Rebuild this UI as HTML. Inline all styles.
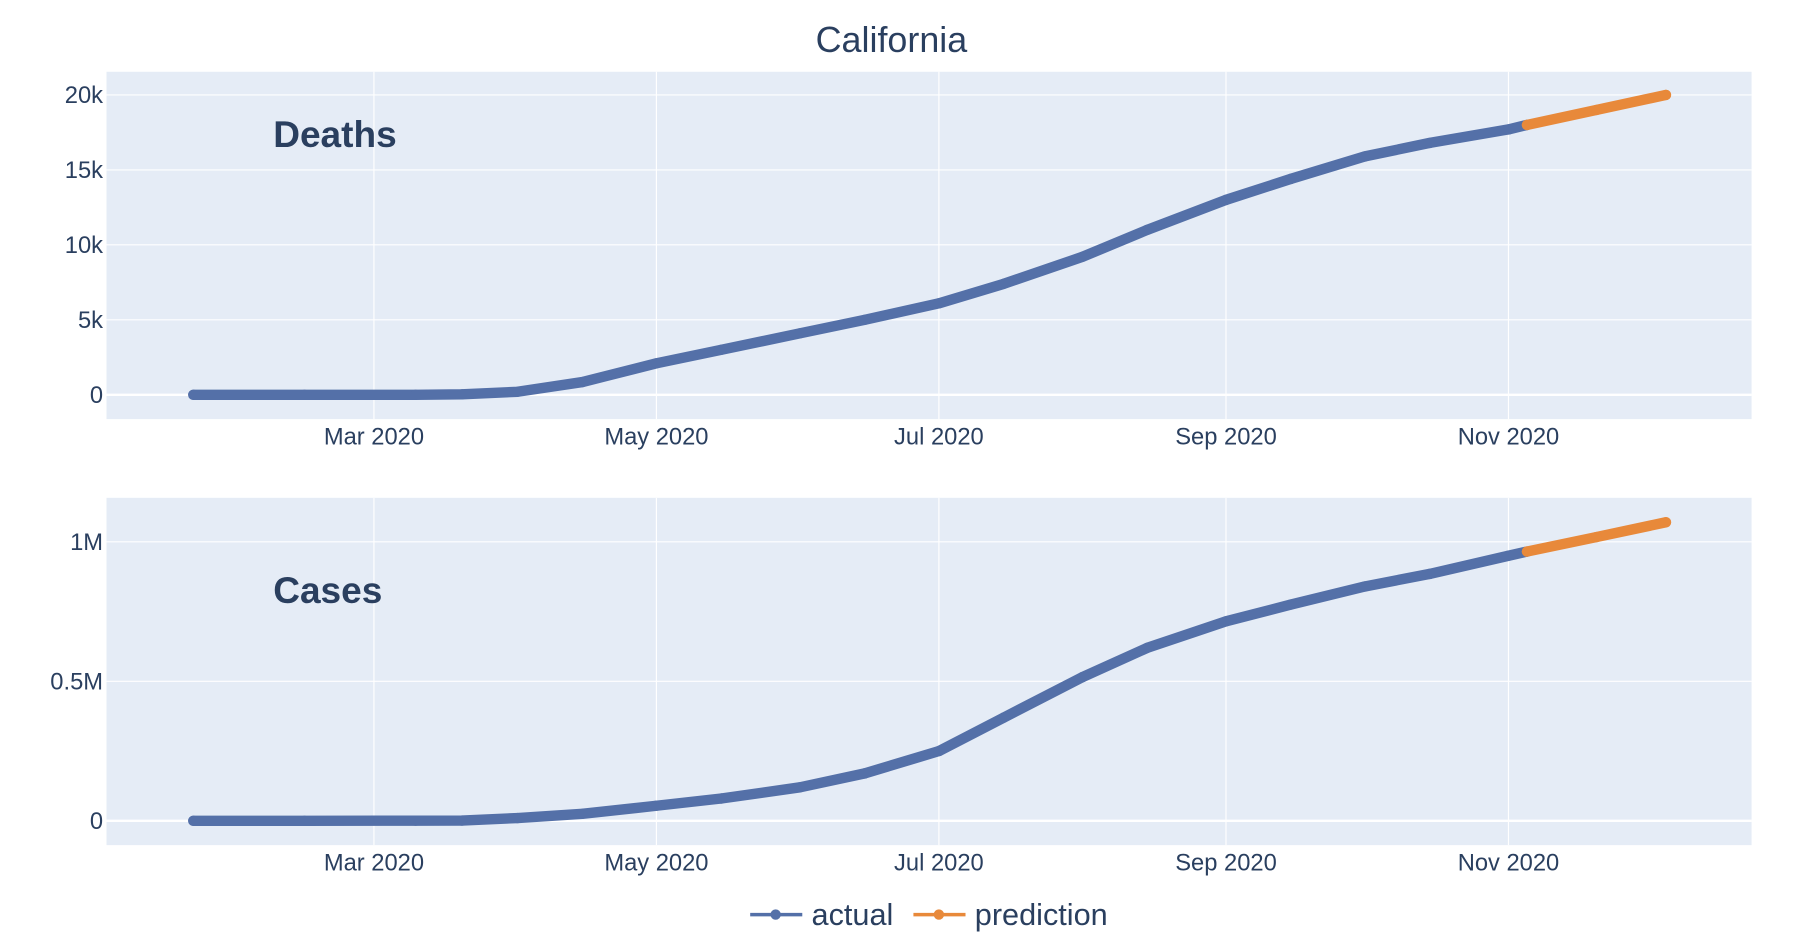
<!DOCTYPE html>
<html><head><meta charset="utf-8"><style>
html,body{margin:0;padding:0;background:#fff}
svg{display:block;font-family:"Liberation Sans",sans-serif}
</style></head><body>
<svg id="chart" width="1806" height="944" viewBox="0 0 1560 815.4" preserveAspectRatio="none" xmlns="http://www.w3.org/2000/svg">
<text x="770" y="45" text-anchor="middle" font-size="31" fill="#2a3f5f">California</text>
<g id="g"></g>
<g>
 <line x1="648" y1="790" x2="693" y2="790" stroke="#5470a8" stroke-width="3"/>
 <circle cx="670" cy="790" r="4.5" fill="#5470a8"/>
 <text x="701" y="799" font-size="26.5" fill="#2a3f5f">actual</text>
 <line x1="789" y1="790" x2="834" y2="790" stroke="#e8893a" stroke-width="3"/>
 <circle cx="811" cy="790" r="4.5" fill="#e8893a"/>
 <text x="842" y="799" font-size="26.5" fill="#2a3f5f">prediction</text>
</g>
</svg>
<script>
const actualDates = ["2020-01-22","2020-02-15","2020-03-10","2020-03-20","2020-04-01","2020-04-15","2020-05-01","2020-05-15","2020-06-01","2020-06-15","2020-07-01","2020-07-15","2020-08-01","2020-08-15","2020-09-01","2020-09-15","2020-10-01","2020-10-15","2020-11-01","2020-11-05"];
const deathsActual = [0,0,0,30,200,850,2100,3000,4100,5000,6100,7400,9200,11000,13000,14400,15900,16800,17700,18000];
const casesActual = [0,0,500,1000,10000,25000,54000,80000,120000,170000,250000,370000,515000,620000,715000,775000,840000,885000,950000,965000];
const predDates = ["2020-11-05","2020-11-20","2020-12-05"];
const deathsPred = [18000,19000,20000];
const casesPred = [965000,1017000,1070000];
const xTickDates = ["2020-03-01","2020-05-01","2020-07-01","2020-09-01","2020-11-01"];
const xTickLabels = ["Mar 2020","May 2020","Jul 2020","Sep 2020","Nov 2020"];
const deathTicks = [0,5000,10000,15000,20000];
const deathTickLabels = ["0","5k","10k","15k","20k"];
const caseTicks = [0,500000,1000000];
const caseTickLabels = ["0","0.5M","1M"];

const NS="http://www.w3.org/2000/svg";
const g=document.getElementById('g');
function el(t,a,p){const e=document.createElementNS(NS,t);for(const k in a)e.setAttribute(k,a[k]);(p||g).appendChild(e);return e;}
const day=d=>Date.parse(d)/86400000;
const x0=day("2020-03-01"), xPx0=323, pxPerDay=244/61;
const X=d=>xPx0+(day(d)-x0)*pxPerDay;

function panel(name,top,bot,y0px,vRef,vRefPx,ticks,labels,act,pred,label,labelY){
  const Y=v=>y0px-(v/vRef)*(y0px-vRefPx);
  const bg=el('rect',{x:92,y:top,width:1421,height:bot-top,fill:'#e5ecf6'});
  
  
  xTickDates.forEach((d,i)=>{
    const l=el('line',{x1:X(d),x2:X(d),y1:top,y2:bot,stroke:'#fff','stroke-width':1});
    
    
    const t=el('text',{x:X(d),y:bot+22,'text-anchor':'middle','font-size':20.5,fill:'#2a3f5f'});
    t.textContent=xTickLabels[i];
    
    
  });
  ticks.forEach((v,i)=>{
    const l=el('line',{x1:92,x2:1513,y1:Y(v),y2:Y(v),stroke:'#fff','stroke-width':v===0?2:1});
    
    
    const t=el('text',{x:89,y:Y(v)+7,'text-anchor':'end','font-size':20.5,fill:'#2a3f5f'});
    t.textContent=labels[i];
    
    
  });
  const lt=el('text',{x:236,y:labelY,'font-size':32,'font-weight':'bold',fill:'#2a3f5f'});
  lt.textContent=label;
  
  
  [[actualDates,act,'#5470a8','actual'],[predDates,pred,'#e8893a','prediction']].forEach(([ds,vs,c,s])=>{
    const p=el('polyline',{points:ds.map((d,i)=>X(d)+','+Y(vs[i])).join(' '),fill:'none',stroke:c,'stroke-width':9,'stroke-linecap':'round','stroke-linejoin':'round'});
    
    
    ds.forEach((d,i)=>{
      const m=el('circle',{cx:X(d),cy:Y(vs[i]),r:4.5,fill:c});
      
      
    });
  });
}
panel('deaths',62,362,341,20000,82,deathTicks,deathTickLabels,deathsActual,deathsPred,'Deaths',127);
panel('cases',430,730,709,1000000,468,caseTicks,caseTickLabels,casesActual,casesPred,'Cases',521);
</script>
</body></html>
